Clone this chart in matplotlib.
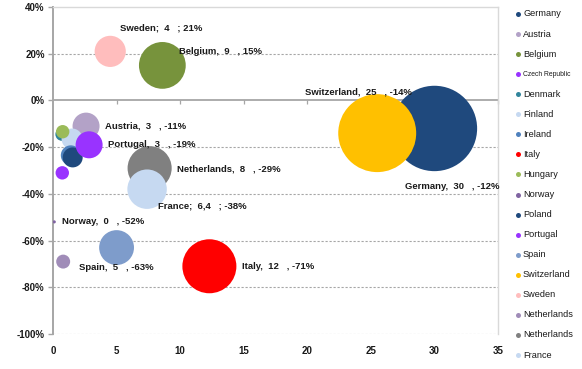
import matplotlib
matplotlib.use("Agg")
import matplotlib.pyplot as plt
from matplotlib import font_manager
from matplotlib.lines import Line2D

# ---- data ---------------------------------------------------------------
countries = ["Germany", "Austria", "Belgium", "Czech Republic", "Denmark",
             "Finland", "Ireland", "Italy", "Hungary", "Norway", "Poland",
             "Portugal", "Spain", "Switzerland", "Sweden", "Netherlands",
             "Netherlands", "France"]
x_vals = [30.0, 2.6, 8.6, 0.73, 0.7, 1.5, 1.4, 12.3, 0.76, 0.1, 1.55,
          2.84, 5.0, 25.5, 4.5, 0.8, 7.6, 7.4]
y_vals = [-12, -11, 15, -31, -14.5, -16.5, -23.5, -71, -13.4, -52, -24.4,
          -19, -63, -14, 21, -69, -29, -38]
sizes = [30, 3, 9, 0.74, 0.7, 1.8, 1.64, 12, 0.74, 0.04, 1.64,
         3, 5, 25, 4, 0.8, 8, 6.4]
colors = ["#1F497D", "#B3A2C7", "#77933C", "#9933FF", "#31859C",
          "#C6D9F1", "#4F81BD", "#FF0000", "#9BBB59", "#8064A2", "#1F497D",
          "#9933FF", "#7E9CCB", "#FFC000", "#FFBDBD", "#A08CB8",
          "#808080", "#C6D9F1"]

# data labels: (series index, text, offset in points)
label_idx = [14, 2, 13, 0, 1, 11, 16, 17, 9, 12, 7]
label_txt = ["Sweden;  4   ; 21%", "Belgium,  9   , 15%",
             "Switzerland,  25   , -14%", "Germany,  30   , -12%",
             "Austria,  3   , -11%", "Portugal,  3   , -19%",
             "Netherlands,  8   , -29%", "France;  6,4   ; -38%",
             "Norway,  0   , -52%", "Spain,  5   , -63%", "Italy,  12   , -71%"]
label_off = [(7, 16.5), (12, 10), (-52, 29.5), (-21, -42), (13.5, 0),
             (13.5, 0), (20, -0.5), (7.5, -12), (5.5, 0), (-27, -14.5),
             (23.5, -0.5)]

x_ticks = [0, 5, 10, 15, 20, 25, 30, 35]
y_ticks = [40, 20, 0, -20, -40, -60, -80, -100]

BUBBLE_SCALE = 126  # points^2 per size unit

# ---- fonts ----------------------------------------------------------------
installed = {f.name for f in font_manager.fontManager.ttflist}
bold_family = ["Liberation Sans Narrow"] if "Liberation Sans Narrow" in installed else ["Liberation Sans"]
bold_family += ["DejaVu Sans"]
reg_family = ["Liberation Sans", "DejaVu Sans"]

W, H = 582, 369
fig = plt.figure(figsize=(W / 100, H / 100), dpi=100)
ax = fig.add_axes([53 / W, (H - 334) / H, (498 - 53) / W, (334 - 7) / H])

ax.set_xlim(0, 35)
ax.set_ylim(-100, 40)

# bubbles, in series order so later series sit on top
for i in range(len(countries)):
    ax.scatter(x_vals[i], y_vals[i], s=sizes[i] * BUBBLE_SCALE,
               color=colors[i], edgecolors="none", zorder=3 + i * 0.01)

# dotted horizontal gridlines
for yt in y_ticks:
    if yt in (0, 40):
        continue
    ax.axhline(yt, color="#A6A6A6", lw=0.8, ls=(0, (2.0, 1.6)), zorder=1)

# zero line with its tick marks
ax.axhline(0, color="#A6A6A6", lw=1.3, zorder=2)
ax.plot(x_ticks[1:], [0] * (len(x_ticks) - 1), ls="none", marker=3,
        ms=3, mew=0.9, color="#A6A6A6", zorder=2, clip_on=False)

# axes frame
for side in ("top", "right"):
    ax.spines[side].set_color("#D9D9D9")
    ax.spines[side].set_linewidth(1.0)
ax.spines["bottom"].set_visible(False)
ax.spines["left"].set_color("#A6A6A6")
ax.spines["left"].set_linewidth(1.4)

ax.set_xticks(x_ticks)
ax.set_xticklabels([str(v) for v in x_ticks])
ax.set_yticks(y_ticks)
ax.set_yticklabels([f"{v}%" for v in y_ticks])
ax.tick_params(axis="x", length=0, pad=9)
ax.tick_params(axis="y", length=3.5, width=1.0, color="#A6A6A6", pad=2.5)
for t in ax.get_xticklabels() + ax.get_yticklabels():
    t.set_fontfamily(bold_family)
    t.set_fontweight("bold")
    t.set_fontsize(7)
    t.set_color("#1A1A1A")

# data labels
for idx, txt, off in zip(label_idx, label_txt, label_off):
    ax.annotate(txt, (x_vals[idx], y_vals[idx]), xytext=off,
                textcoords="offset points", ha="left", va="center",
                fontsize=6.8, fontweight="bold", family=bold_family,
                color="#1A1A1A", zorder=10, annotation_clip=False)

# legend column
leg_x_marker = 517.5 / W
leg_x_text = 523 / W
y0, dy = 14, 20.06
for i, name in enumerate(countries):
    yy = (H - (y0 + i * dy)) / H
    fig.add_artist(Line2D([leg_x_marker], [yy], transform=fig.transFigure,
                          marker="o", ms=3.6, color=colors[i], mec="none",
                          ls="none"))
    fs = 4.9 if name == "Czech Republic" else 6.6
    fig.text(leg_x_text, yy, name, fontsize=fs, family=reg_family,
             color="#1A1A1A", ha="left", va="center")

fig.savefig("out.png", dpi=100)
